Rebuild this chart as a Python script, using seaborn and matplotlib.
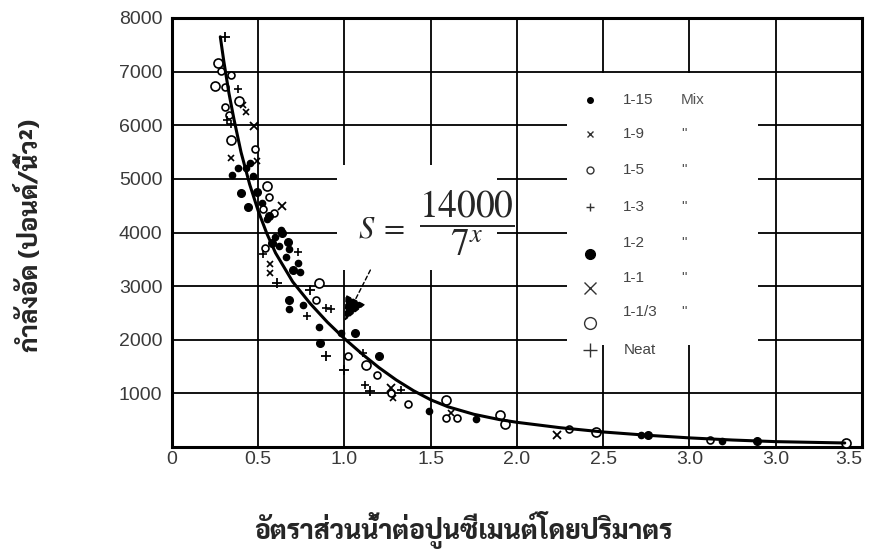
import pandas as pd
import seaborn as sns
import matplotlib
matplotlib.use('Agg')
import matplotlib.pyplot as plt
from matplotlib.patches import Rectangle


# water/cement ratio (x) and compressive strength in psi (y)
dot_small_x = [0.35, 0.38, 0.43, 0.45, 0.47, 0.52, 0.55, 0.60, 0.63, 0.62, 0.66, 0.68,
               0.73, 0.74, 0.68, 0.76, 0.85, 0.98, 1.49, 1.76, 2.72, 3.19]
dot_small_y = [5080, 5200, 5210, 5300, 5050, 4550, 4250, 3920, 4050, 3750, 3550, 3700,
               3430, 3270, 2580, 2640, 2230, 2120, 680, 530, 220, 110]
x_small_x = [0.41, 0.43, 0.34, 0.49, 0.57, 0.57, 1.28, 1.62]
x_small_y = [6370, 6250, 5380, 5330, 3410, 3250, 920, 640]
o_small_x = [0.286, 0.343, 0.305, 0.31, 0.33, 0.48, 0.56, 0.53, 0.59, 0.54, 0.835,
             1.02, 1.186, 1.27, 1.37, 1.59, 1.65, 2.30, 3.12]
o_small_y = [7020, 6930, 6340, 6720, 6200, 5550, 4660, 4430, 4370, 3720, 2740,
             1700, 1340, 1000, 800, 550, 550, 330, 125]
plus_small_x = [0.38, 0.32, 0.34, 0.53, 0.73, 0.78, 0.92, 0.89, 1.11, 1.12, 1.33]
plus_small_y = [6680, 6100, 6020, 3600, 3640, 2440, 2580, 2590, 1760, 1150, 1060]
dot_big_x = [0.40, 0.44, 0.49, 0.56, 0.64, 0.67, 0.68, 0.70, 0.86, 1.06, 1.20, 2.76, 3.39, 0.58]
dot_big_y = [4730, 4480, 4750, 4300, 4000, 3830, 2750, 3300, 1940, 2120, 1690, 215, 120, 3800]
x_big_x = [0.475, 0.64, 1.27, 2.23]
x_big_y = [5980, 4500, 1100, 220]
o_big_x = [0.267, 0.248, 0.39, 0.343, 0.55, 0.855, 1.127, 1.59, 1.90, 1.93, 2.46, 3.91]
o_big_y = [7170, 6740, 6460, 5730, 4860, 3050, 1530, 875, 590, 420, 280, 75]
plus_big_x = [0.31, 0.61, 0.80, 0.89, 1.00, 1.15]
plus_big_y = [7650, 3050, 2930, 1690, 1440, 1050]

# S = 14000 / 7^x, as drawn
curve_x = [0.28, 0.30, 0.33, 0.36, 0.40, 0.45, 0.50, 0.55, 0.60, 0.70, 0.80, 0.90, 1.00,
           1.10, 1.20, 1.30, 1.40, 1.50, 1.60, 1.75, 1.90, 2.00, 2.25, 2.50, 2.75, 3.00,
           3.25, 3.50, 3.90]
curve_y = [7650, 7200, 6600, 6100, 5500, 4900, 4400, 3980, 3620, 3080, 2680, 2330, 2020,
           1740, 1480, 1250, 1050, 880, 750, 610, 510, 460, 360, 280, 220, 170,
           130, 100, 75]

x_ticks = [0, 0.5, 1.0, 1.5, 2.0, 2.5, 3.0, 3.5, 4.0]
x_ticklabels = ['0', '0.5', '1.0', '1.5', '2.0', '2.5', '3.0', '3.0', '3.5']
y_ticks = [1000, 2000, 3000, 4000, 5000, 6000, 7000, 8000]

mixes = ['1-15', '1-9', '1-5', '1-3', '1-2', '1-1', '1-1/3', 'Neat']
mix_notes = ['Mix', '"', '"', '"', '"', '"', '"', '']

sns.set_theme(style='white')
plt.rcParams['font.family'] = ['Liberation Sans', 'DejaVu Sans']
plt.rcParams['mathtext.fontset'] = 'stix'
thai = ['Sarabun', 'Noto Sans Thai', 'DejaVu Sans']

fig = plt.figure(figsize=(8.7, 5.49), dpi=100)
ax = fig.add_axes([172 / 870, 1 - 447 / 549, 690 / 870, 429 / 549])

series = [
    (dot_small_x, dot_small_y, dict(marker='o', ms=4.5, mfc='black', mec='black')),
    (x_small_x, x_small_y, dict(marker='x', ms=5, mec='black', mew=1.2)),
    (o_small_x, o_small_y, dict(marker='o', ms=5, mfc='white', mec='black', mew=1.2)),
    (plus_small_x, plus_small_y, dict(marker='+', ms=6, mec='black', mew=1.2)),
    (dot_big_x, dot_big_y, dict(marker='o', ms=5.5, mfc='black', mec='black')),
    (x_big_x, x_big_y, dict(marker='x', ms=6, mec='black', mew=1.3)),
    (o_big_x, o_big_y, dict(marker='o', ms=6.5, mfc='white', mec='black', mew=1.2)),
    (plus_big_x, plus_big_y, dict(marker='+', ms=7.5, mec='black', mew=1.3)),
]
for sx, sy, kw in series:
    df = pd.DataFrame({'x': sx, 'y': sy})
    ax.plot(df['x'], df['y'], ls='none', zorder=4, **kw)

sns.lineplot(x=curve_x, y=curve_y, ax=ax, color='black', lw=2.2, zorder=5, sort=False)

ax.set_xlim(0, 4)
ax.set_ylim(0, 8000)
ax.set_xticks(x_ticks)
ax.set_xticklabels(x_ticklabels)
ax.set_yticks(y_ticks)
ax.tick_params(length=0, labelsize=14, colors='#3a3a3a')
ax.tick_params(axis='y', pad=7)
ax.tick_params(axis='x', pad=3)
ax.get_xticklabels()[-1].set_horizontalalignment('right')
ax.grid(True, color='black', lw=1.3)
ax.set_axisbelow(True)
for s in ax.spines.values():
    s.set_color('black')
    s.set_linewidth(2.2)
    s.set_visible(True)

# white boxes that break the grid behind the formula and the key
ax.add_patch(Rectangle((0.239, 0.413), 0.232, 0.244, transform=ax.transAxes,
                       facecolor='white', edgecolor='none', zorder=1.5))
ax.add_patch(Rectangle((0.572, 0.238), 0.277, 0.633, transform=ax.transAxes,
                       facecolor='white', edgecolor='none', zorder=1.5))

ax.text(0.270, 0.508, r'$S\;=$', transform=ax.transAxes,
        fontsize=22, va='center', ha='left', zorder=3)
ax.text(0.358, 0.522, r'$\dfrac{14000}{7^{x}}$', transform=ax.transAxes,
        fontsize=27, va='center', ha='left', zorder=3)
ax.annotate('', xy=(1.0, 2350), xytext=(1.15, 3300),
            arrowprops=dict(arrowstyle='-|>,head_length=1.3,head_width=0.6',
                            color='black', lw=1, ls=(0, (3, 2)), shrinkA=0, shrinkB=0),
            zorder=6)

# key
row_y = [0.81, 0.73, 0.645, 0.56, 0.475, 0.395, 0.315, 0.225]
mk_dy = [0, 0, 0, 0, -0.025, -0.025, -0.025, 0]
key_style = [
    dict(marker='o', ms=4, mfc='black', mec='black'),
    dict(marker='x', ms=5, mec='#333333', mew=1),
    dict(marker='o', ms=5, mfc='white', mec='#333333', mew=1),
    dict(marker='+', ms=6, mec='#333333', mew=1),
    dict(marker='o', ms=7, mfc='black', mec='black'),
    dict(marker='x', ms=8, mec='#333333', mew=1),
    dict(marker='o', ms=8.5, mfc='white', mec='#333333', mew=1),
    dict(marker='+', ms=10, mec='#333333', mew=1),
]
for i, mix in enumerate(mixes):
    ax.plot([0.606], [row_y[i] + mk_dy[i]], transform=ax.transAxes, ls='none',
            zorder=3, **key_style[i])
    ax.text(0.654, row_y[i], mix, transform=ax.transAxes, fontsize=11,
            color='#444444', va='center', zorder=3)
    ax.text(0.738, row_y[i], mix_notes[i], transform=ax.transAxes, fontsize=11,
            color='#555555', va='center', zorder=3)

ax.set_xlabel('อัตราส่วนน้ำต่อปูนซีเมนต์โดยปริมาตร', family=thai,
              fontsize=19, fontweight=800, va='center')
ax.xaxis.set_label_coords(0.422, -0.193)
ax.set_ylabel('กำลังอัด (ปอนด์/นิ้ว²)', family=thai,
              fontsize=18.5, fontweight=800, va='center')
ax.yaxis.set_label_coords(-0.205, 0.494)

fig.savefig('out.png', dpi=100)
